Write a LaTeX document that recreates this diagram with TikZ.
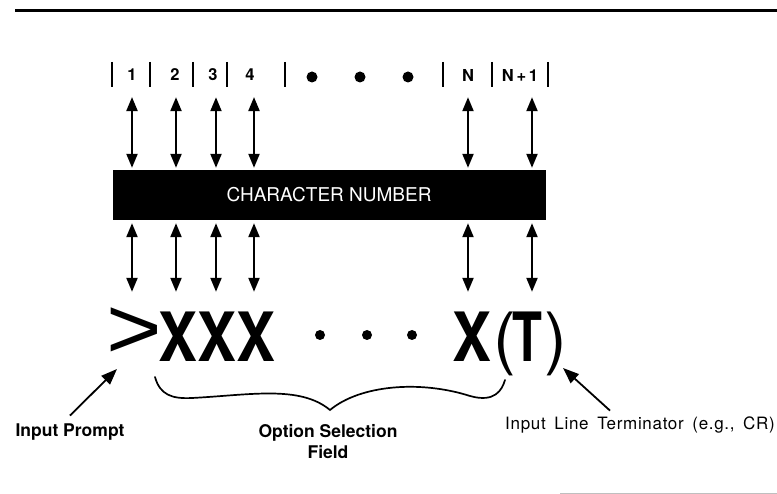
\documentclass[tikz,border=0pt]{standalone}
\usepackage{fontspec}
\setmainfont{TeX Gyre Heros}
\newfontfamily\gtfont{Liberation Sans}
\newfontfamily\termfont{TeX Gyre Heros}[LetterSpace=4,WordSpace=1.6]
\usetikzlibrary{arrows.meta}
\begin{document}
\begin{tikzpicture}[x=1pt,y=-1pt,
 dbl/.style={{Triangle[length=14pt,width=11pt]}-{Triangle[length=14pt,width=11pt]}, line width=2.2pt},
 sepline/.style={line width=2pt},
 num/.style={font=\fontsize{16.5}{16.5}\selectfont\bfseries, inner sep=0pt},
 big/.style={font=\fontsize{68}{68}\selectfont\bfseries, inner sep=0pt, anchor=base, text height=49pt, text depth=0pt},
 lab/.style={font=\fontsize{17.5}{21}\selectfont\bfseries, inner sep=0pt, align=center},
 ptr/.style={-{Triangle[length=16pt,width=12pt]}, line width=1.8pt}]
\useasboundingbox (0,0) rectangle (777,494);
% rules
\draw[line width=3pt] (15,11) -- (777,11);
\draw[gray!50, line width=1pt] (560,493) -- (777,493);
% separators in the number row
\foreach \x in {112,150,193,227,285,443,492,548} \draw[sepline] (\x,62) -- (\x,87);
% number labels
\node[num] (l1) at (132,75) {1};
\node[num] (l2) at (175,75) {2};
\node[num] (l3) at (213,75) {3};
\node[num] (l4) at (250,75) {4};
\node[num] (lN) at (468,75) {N};
\node[num] (lN1) at (520,75) {N\,+\,1};
\foreach \x in {312,360,408} \fill (\x,77) circle (5.5pt);
% column positions
\coordinate (c1) at (132,0);
\coordinate (c2) at (176,0);
\coordinate (c3) at (216,0);
\coordinate (c4) at (254,0);
\coordinate (c5) at (468,0);
\coordinate (c6) at (532,0);
% black bar
\node[fill=black, minimum width=433pt, minimum height=50pt, inner sep=0pt, text=white,
      font=\fontsize{19}{19}\selectfont] (bar) at (329,195) {CHARACTER NUMBER};
% characters
\node[big] (gt) at (134,362) {\raisebox{3pt}{\scalebox{1.4}[1.28]{\gtfont\mdseries >}}};
\node[big] (x1) at (178,362) {\scalebox{0.86}[1]{X}};
\node[big] (x2) at (217,362) {\scalebox{0.86}[1]{X}};
\node[big] (x3) at (256,362) {\scalebox{0.86}[1]{X}};
\node[big] (xn) at (472,362) {\scalebox{0.86}[1]{X}};
\node[big] (lp) at (505,362) {\mdseries(};
\node[big] (tt) at (527,362) {\scalebox{0.72}[1]{T}};
\node[big] (rp) at (556,362) {\mdseries)};
\foreach \x in {320,367,412} \fill (\x,335) circle (5pt);
% upper arrows
\draw[dbl, shorten <=16pt, shorten >=2pt] (c1 |- l1.south) -- (c1 |- bar.north);
\draw[dbl, shorten <=16pt, shorten >=2pt] (c2 |- l2.south) -- (c2 |- bar.north);
\draw[dbl, shorten <=16pt, shorten >=2pt] (c3 |- l3.south) -- (c3 |- bar.north);
\draw[dbl, shorten <=16pt, shorten >=2pt] (c4 |- l4.south) -- (c4 |- bar.north);
\draw[dbl, shorten <=16pt, shorten >=2pt] (c5 |- lN.south) -- (c5 |- bar.north);
\draw[dbl, shorten <=16pt, shorten >=2pt] (c6 |- lN1.south) -- (c6 |- bar.north);
% lower arrows
\draw[dbl, shorten <=3pt, shorten >=21pt] (c1 |- bar.south) -- (c1 |- gt.north);
\draw[dbl, shorten <=3pt, shorten >=21pt] (c2 |- bar.south) -- (c2 |- x1.north);
\draw[dbl, shorten <=3pt, shorten >=21pt] (c3 |- bar.south) -- (c3 |- x2.north);
\draw[dbl, shorten <=3pt, shorten >=21pt] (c4 |- bar.south) -- (c4 |- x3.north);
\draw[dbl, shorten <=3pt, shorten >=21pt] (c5 |- bar.south) -- (c5 |- xn.north);
\draw[dbl, shorten <=3pt, shorten >=21pt] (c6 |- bar.south) -- (c6 |- tt.north);
% brace
\draw[line width=1.7pt, line cap=round] (155,377) .. controls (160,395) and (172,399) .. (192,398)
  .. controls (250,395) and (300,385) .. (330,410)
  .. controls (360,385) and (420,380) .. (470,396)
  .. controls (495,403) and (502,390) .. (505,380);
% labels
\node[lab] (ip) at (70,432) {Input Prompt};
\node[lab] (os) at (328,442) {Option Selection\\Field};
\node[font=\termfont\fontsize{17}{18}\selectfont, inner sep=0pt] (term) at (640,425) {Input Line Terminator (e.g., CR)};
\coordinate (gtp) at (117,369);
\coordinate (rpp) at (563,368);
\draw[ptr] ([yshift=8pt]ip.north) -- (gtp);
\draw[ptr] ([xshift=-30pt,yshift=6pt]term.north) -- (rpp);
\end{tikzpicture}
\end{document}
